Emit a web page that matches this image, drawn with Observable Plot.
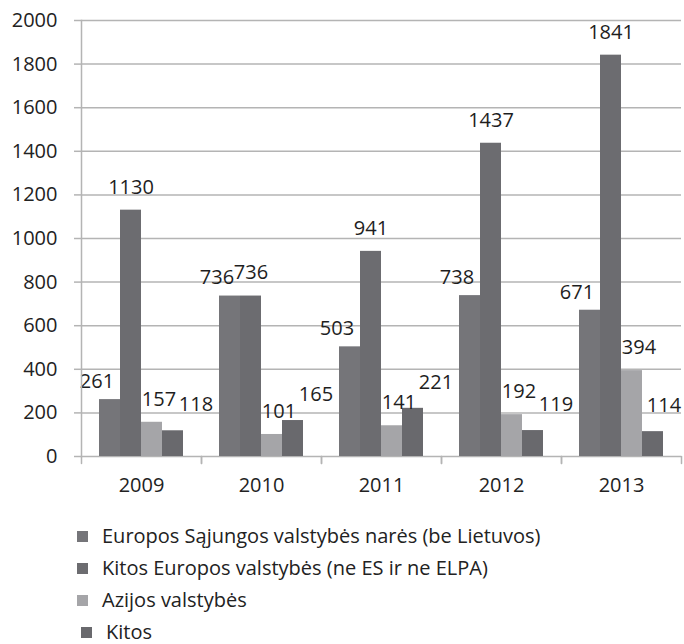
<!DOCTYPE html>
<html><head><meta charset="utf-8">
<script src="https://cdn.jsdelivr.net/npm/d3@7"></script>
<script src="https://cdn.jsdelivr.net/npm/@observablehq/plot@0.6"></script>
<style>
body{margin:0;background:#fff;font-family:"Open Sans",sans-serif;color:#222;}
#legend{padding-top:10px;}
.row{display:flex;align-items:center;height:32px;padding-left:77px;font-size:20px;line-height:24px;}
.sw{width:11px;height:11px;margin-right:14px;flex:none;}
</style></head><body><div id="chart"></div><div id="legend"></div>
<script>
const years = ["2009", "2010", "2011", "2012", "2013"];
const series = ["Europos Sąjungos valstybės narės (be Lietuvos)", "Kitos Europos valstybės (ne ES ir ne ELPA)", "Azijos valstybės", "Kitos"];
const euValues = [261, 736, 503, 738, 671];
const otherEuropeValues = [1130, 736, 941, 1437, 1841];
const asiaValues = [157, 101, 141, 192, 394];
const otherValues = [118, 165, 221, 119, 114];
const yTicks = [0, 200, 400, 600, 800, 1000, 1200, 1400, 1600, 1800, 2000];

const colors = ["#757579", "#6c6c70", "#a5a5a8", "#69696d"];
const labelDx = [-13, 0, 7, 23];
const labelDy = [-18, -23, -23, -26];
const grid = "#b4b4b4";

const valueLists = [euValues, otherEuropeValues, asiaValues, otherValues];
const rows = years.flatMap((year, i) => series.map((s, j) => ({year, series: s, value: valueLists[j][i]})));
const tickShape = {draw(context, l) { context.moveTo(0, 0); context.lineTo(0, -l); }};
const lastYear = years[years.length - 1];

const labelMarks = series.map((s, j) => Plot.text(rows.filter(d => d.series === s && !(j === 3 && d.year === lastYear)), {
  fx: "year", x: "series", y: "value", text: d => String(d.value),
  dx: labelDx[j], dy: labelDy[j], fill: "#1e1e1e"
}));
// the right-edge label is nudged in so it stays inside the frame
labelMarks.push(Plot.text(rows.filter(d => d.series === series[3] && d.year === lastYear), {
  fx: "year", x: "series", y: "value", text: d => String(d.value),
  dx: 11, dy: labelDy[3], fill: "#1e1e1e"
}));

const chart = Plot.plot({
  width: 684, height: 510,
  marginLeft: 79, marginRight: 2, marginTop: 20, marginBottom: 54,
  style: {fontFamily: "Open Sans", fontSize: "20px", color: "#222", background: "#fff"},
  fx: {domain: years, padding: 0, label: null},
  x: {domain: series, paddingInner: 0, paddingOuter: 0.74, axis: null},
  y: {domain: [0, 2000], label: null},
  color: {domain: series, range: colors},
  marks: [
    Plot.ruleY(yTicks, {stroke: grid, strokeWidth: 1.5}),
    Plot.barY(rows, {fx: "year", x: "series", y: "value", fill: "series"}),
    ...labelMarks,
    Plot.axisY({ticks: yTicks, tickSize: 7, tickPadding: 17, stroke: grid, strokeWidth: 1.5, label: null, tickFormat: d => String(d)}),
    Plot.axisFx({anchor: "bottom", tickSize: 0, tickPadding: 21, label: null}),
    Plot.frame({anchor: "left", facet: "super", stroke: grid, strokeWidth: 1.5}),
    Plot.vector([0], {frameAnchor: "bottom-left", rotate: 180, length: 7, anchor: "start", shape: tickShape, stroke: grid, strokeWidth: 1.5}),
    Plot.vector([0], {frameAnchor: "bottom-right", rotate: 180, length: 7, anchor: "start", shape: tickShape, stroke: grid, strokeWidth: 1.5})
  ]
});
document.getElementById("chart").appendChild(chart);

const legend = document.getElementById("legend");
series.forEach((s, j) => {
  const row = document.createElement("div");
  row.className = "row";
  if (j === 3) row.style.paddingLeft = "81px";
  const sw = document.createElement("span");
  sw.className = "sw";
  sw.style.background = colors[j];
  const t = document.createElement("span");
  t.textContent = s;
  row.appendChild(sw); row.appendChild(t);
  legend.appendChild(row);
});
</script></body></html>
